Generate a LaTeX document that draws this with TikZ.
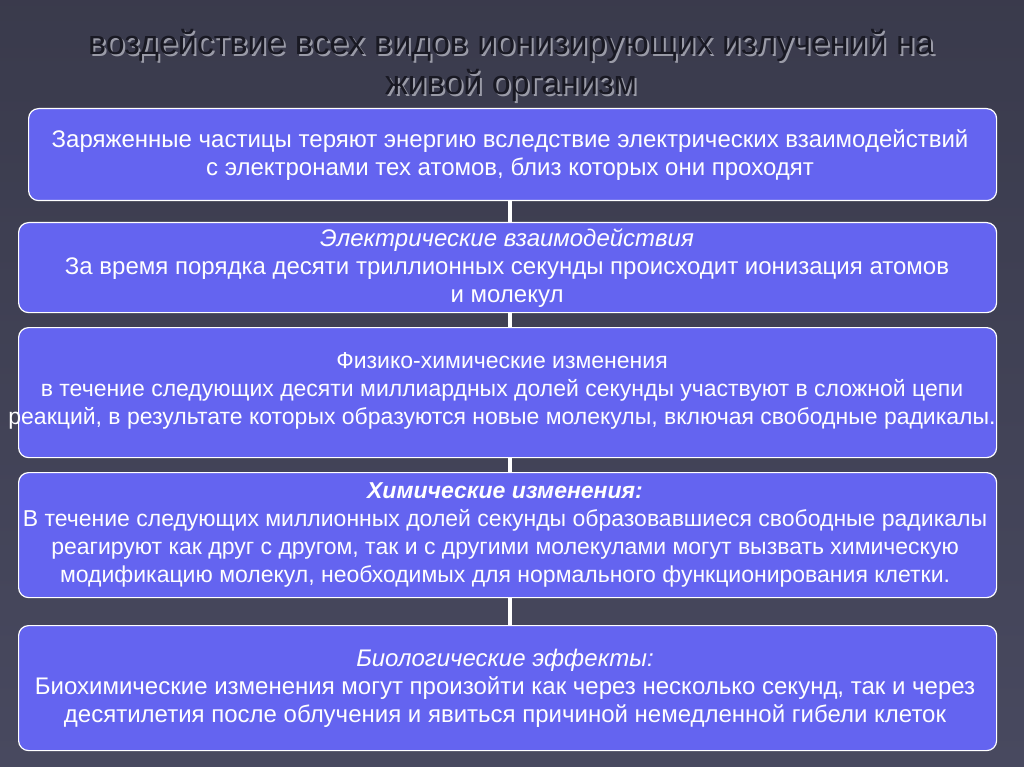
\documentclass[tikz,border=0pt]{standalone}
\usepackage{fontspec}
\setmainfont{Liberation Sans}
\begin{document}
\begin{tikzpicture}[x=1pt,y=-1pt,
 box/.style={draw=white,line width=1.2pt,fill=boxc,rounded corners=10pt,anchor=north west,inner sep=0pt},
 txt/.style={text=white,font=\fontsize{24}{28}\selectfont,align=center},
 txs/.style={text=white,font=\fontsize{23}{28}\selectfont,align=center},
 conn/.style={white,line width=4pt}]
\definecolor{boxc}{RGB}{100,100,240}
\definecolor{bgc}{RGB}{72,73,95}
\definecolor{titc}{RGB}{25,25,35}
\useasboundingbox (0,0) rectangle (1024,767);
\shade[top color=bgc!80!black,bottom color=bgc] (0,0) rectangle (1024,767);
\coordinate (c1) at (510,200);
\coordinate (c5) at (510,625);
\draw[conn] (c1) -- (c5);
\node[box,minimum width=968pt,minimum height=92pt] (b1) at (28,108) {};
\node[box,minimum width=978pt,minimum height=90pt] (b2) at (18,222) {};
\node[box,minimum width=978pt,minimum height=130pt] (b3) at (18,327) {};
\node[box,minimum width=978pt,minimum height=125pt] (b4) at (18,472) {};
\node[box,minimum width=978pt,minimum height=125pt] (b5) at (18,625) {};
\node[font=\fontsize{34}{40}\selectfont,text=white!45!bgc,align=center] at (513,67) {воздействие всех видов ионизирующих излучений на\\живой организм};
\node[font=\fontsize{34}{40}\selectfont,text=titc,align=center] (t) at (511,65) {воздействие всех видов ионизирующих излучений на\\живой организм};
\node[txt] (x1) at (510,155) {Заряженные частицы теряют энергию вследствие электрических взаимодействий\\с электронами тех атомов, близ которых они проходят};
\node[txt] (x2) at (507,268) {\textit{Электрические взаимодействия}\\За время порядка десяти триллионных секунды происходит ионизация атомов\\и молекул};
\node[txs] (x3) at (502,391) {Физико-химические изменения\\в течение следующих десяти миллиардных долей секунды участвуют в сложной цепи\\реакций, в результате которых образуются новые молекулы, включая свободные радикалы.};
\node[txs] (x4) at (505,535) {\textbf{\textit{Химические изменения:}}\\В течение следующих миллионных долей секунды образовавшиеся свободные радикалы\\реагируют как друг с другом, так и с другими молекулами могут вызвать химическую\\модификацию молекул, необходимых для нормального функционирования клетки.};
\node[txt] (x5) at (505,688) {\textit{Биологические эффекты:}\\Биохимические изменения могут произойти как через несколько секунд, так и через\\десятилетия после облучения и явиться причиной немедленной гибели клеток};
\end{tikzpicture}
\end{document}
